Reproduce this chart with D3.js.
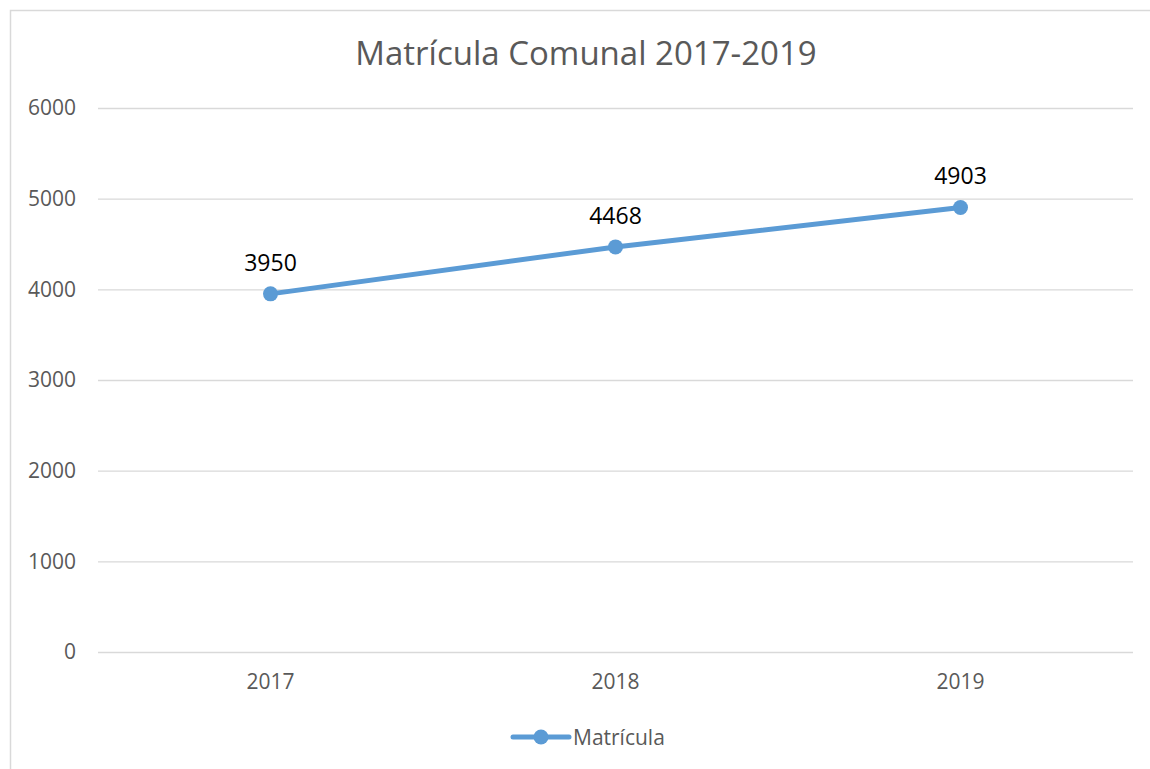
<!DOCTYPE html>
<html>
<head>
<meta charset="utf-8">
<script src="https://cdn.jsdelivr.net/npm/d3@7"></script>
<style>
  body { margin: 0; background: #fff; }
  svg { display: block; font-family: "Open Sans", "Noto Sans", sans-serif; }
</style>
</head>
<body>
<div id="chart"></div>
<script>
(() => {

  let years = ["2017", "2018", "2019"]
  let matricula = [3950, 4468, 4903]
  let y_ticks = [0, 1000, 2000, 3000, 4000, 5000, 6000]

  let data = years.map((d, i) => ({year: d, value: matricula[i]}))

  let svg = d3.select("#chart")
  .append("svg")
  .attr("width", 1150)
  .attr("height", 769)

  // chart border (only top/left visible in frame)
  svg.append("rect")
  .attr("x", 10.5)
  .attr("y", 10.5)
  .attr("width", 1150)
  .attr("height", 800)
  .attr("fill", "none")
  .attr("stroke", "#d9d9d9")
  .attr("stroke-width", 1.5)

  let margin = {top: 108, right: 17, bottom: 117, left: 98}
  let width = 1150 - margin.left - margin.right
  let height = 769 - margin.top - margin.bottom

  let g = svg.append("g")
  .attr("transform", "translate(" + margin.left + "," + margin.top + ")")

  //X axis
  let x = d3.scaleBand()
  .range([0, width])
  .domain(years)

  //Y axis
  let y = d3.scaleLinear()
  .range([height, 0])
  .domain([0, 6000])

  // gridlines
  g.append("g")
  .call(d3.axisLeft(y).tickValues(y_ticks).tickSize(-width).tickFormat(""))
  .call(a => a.select(".domain").remove())
  .call(a => a.selectAll("line").attr("stroke", "#d9d9d9").attr("stroke-width", 1.3))

  let y_axis = g.append("g")
  .call(d3.axisLeft(y).tickValues(y_ticks).tickSize(0).tickPadding(22).tickFormat(d3.format("d")))
  y_axis.select(".domain").remove()
  y_axis.selectAll("text")
  .style("font-size", "21px")
  .style("fill", "#595959")
  .style("font-family", "'Open Sans', sans-serif")

  let x_axis = g.append("g")
  .attr("transform", "translate(0," + height + ")")
  .call(d3.axisBottom(x).tickSize(0).tickPadding(22))
  x_axis.select(".domain").remove()
  x_axis.selectAll("text")
  .style("font-size", "21px")
  .style("fill", "#595959")
  .style("font-family", "'Open Sans', sans-serif")

  let line = d3.line()
  .x(d => x(d.year) + x.bandwidth() / 2)
  .y(d => y(d.value))

  g.append("path")
  .datum(data)
  .attr("d", line)
  .attr("fill", "none")
  .attr("stroke", "#5b9bd5")
  .attr("stroke-width", 5)
  .attr("stroke-linecap", "round")

  g.selectAll(".dot")
  .data(data)
  .enter()
  .append("circle")
  .attr("class", "dot")
  .attr("cx", d => x(d.year) + x.bandwidth() / 2)
  .attr("cy", d => y(d.value))
  .attr("r", 7.5)
  .attr("fill", "#5b9bd5")

  g.selectAll(".label")
  .data(data)
  .enter()
  .append("text")
  .attr("class", "label")
  .attr("x", d => x(d.year) + x.bandwidth() / 2)
  .attr("y", d => y(d.value) - 23)
  .text(d => d.value)
  .style("text-anchor", "middle")
  .style("font-size", "23px")
  .style("fill", "#000")

  // title
  svg.append("text")
  .attr("x", 586)
  .attr("y", 65)
  .text("Matrícula Comunal 2017-2019")
  .style("text-anchor", "middle")
  .style("font-size", "33px")
  .style("fill", "#595959")

  // legend
  let legend = svg.append("g")
  .attr("transform", "translate(513,737)")
  legend.append("line")
  .attr("x1", 0).attr("x2", 56)
  .attr("stroke", "#5b9bd5")
  .attr("stroke-width", 5)
  .attr("stroke-linecap", "round")
  legend.append("circle")
  .attr("cx", 28)
  .attr("r", 7.5)
  .attr("fill", "#5b9bd5")
  legend.append("text")
  .attr("x", 60)
  .attr("y", 7.5)
  .text("Matrícula")
  .style("font-size", "21px")
  .style("fill", "#595959")

})()
</script>
</body>
</html>
